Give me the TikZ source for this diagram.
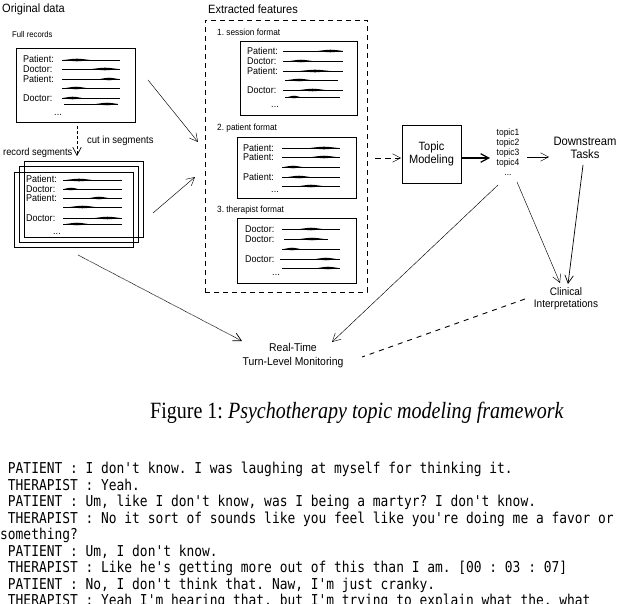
\documentclass[tikz,border=0pt]{standalone}
\usepackage{fontspec}
\setmainfont[FakeStretch=0.92]{Liberation Sans}
\newfontfamily\capfont[FakeStretch=0.86]{Liberation Serif}
\newfontfamily\mono[FakeStretch=0.86,Ligatures=TeXOff]{DejaVu Sans Mono}
\usetikzlibrary{arrows.meta}
\newcommand\fs[1]{\fontsize{#1}{#1}\selectfont}
% scribbled text line: x1, x2, y, thick-from, thick-to
\newcommand\scrib[5]{%
  \draw[line width=0.55pt] (#1,#3) -- (#2,#3);
  \fill ({#4},{#3}) .. controls ({(#4+#5)/2},{#3-1.7}) .. ({#5},{#3})
        .. controls ({(#4+#5)/2},{#3+1.7}) .. ({#4},{#3}) -- cycle;}
\frenchspacing
\begin{document}
\begin{tikzpicture}[x=1pt,y=-1pt,
  every node/.style={inner sep=0pt},
  rec/.style={draw, line width=0.65pt},
  tx/.style={anchor=west, font=\fs{9.8}},
  dots/.style={font=\fs{9.8}},
  head/.style={anchor=west, font=\fs{12}},
  sub/.style={anchor=west, font=\fs{9}},
  lbl/.style={align=center},
  arr/.style={-{Straight Barb[length=8pt,width=8.5pt]}, line width=0.45pt},
  monol/.style={anchor=base west, font=\mono\fs{15}}]
\clip (0,0) rectangle (618,604);
\fill[white] (0,0) rectangle (618,604);

% ---------------- Original data ----------------
\node[head] (orig) at (2,9) {Original data};
\node[anchor=west, font=\fs{8.4}] (fullrec) at (12,34) {Full records};
\node[rec, minimum width=119pt, minimum height=74pt] (frbox) at (75.5,85) {};
\node[tx] (fr1) at (23,59) {Patient:}; \scrib{62}{120}{60}{64}{90}
\node[tx] (fr2) at (23,69) {Doctor:};  \scrib{62}{120}{69}{92}{118}
\node[tx] (fr3) at (23,79) {Patient:}; \scrib{62}{120}{79}{100}{118}
\scrib{62}{120}{88}{66}{86}
\node[tx] (fr4) at (23,98) {Doctor:};  \scrib{62}{120}{98}{63}{82}
\scrib{64}{118}{104}{96}{118}
\node[dots] (fr5) at (58,115) {...};

\node[anchor=west, font=\fs{10.3}] (cutlab) at (87,141) {cut in segments};
\node[anchor=west, font=\fs{10.1}] (recseg) at (3,153) {record segments};

\node[rec, minimum width=119pt, minimum height=76pt] (sgback) at (83.5,199) {};
\node[rec, minimum width=119pt, minimum height=76pt] (sgmid) at (78.5,204) {};
\node[rec, minimum width=119pt, minimum height=75pt] (sgfront) at (73.5,209.5) {};
\node[tx] (sg1) at (26,179) {Patient:}; \scrib{63}{122}{180}{66}{92}
\node[tx] (sg2) at (26,189) {Doctor:};  \scrib{63}{122}{189}{64}{78}
\node[tx] (sg3) at (26,198) {Patient:}; \scrib{63}{122}{198}{90}{108}
\scrib{63}{122}{207}{70}{95}
\node[tx] (sg4) at (26,218) {Doctor:};  \scrib{63}{122}{218}{95}{120}
\scrib{63}{122}{224}{66}{88}
\node[dots] (sg5) at (57,234) {...};

% ---------------- Extracted features ----------------
\node[head] (extr) at (208,9) {Extracted features};
\node[draw, line width=0.8pt, dash pattern=on 5pt off 4pt,
      minimum width=162pt, minimum height=272pt] (feat) at (286,156) {};

\node[sub] (sess) at (217,32) {1. session format};
\node[rec, minimum width=117pt, minimum height=74pt] (sbox) at (298.5,78) {};
\node[tx] (s1) at (247,51) {Patient:}; \scrib{283}{343}{51}{318}{343}
\node[tx] (s2) at (247,61) {Doctor:};  \scrib{283}{343}{61}{290}{312}
\node[tx] (s3) at (247,71) {Patient:}; \scrib{283}{343}{71}{300}{330}
\scrib{285}{338}{80}{288}{310}
\node[tx] (s4) at (247,90) {Doctor:};  \scrib{283}{343}{90}{300}{325}
\scrib{285}{340}{97}{288}{300}
\node[dots] (s5) at (275,107) {...};

\node[sub] (patf) at (217,128) {2. patient format};
\node[rec, minimum width=119pt, minimum height=61pt] (pbox) at (296.5,167.5) {};
\node[tx] (p1) at (243,148) {Patient:}; \scrib{282}{340}{148}{310}{338}
\node[tx] (p2) at (243,157) {Patient:}; \scrib{282}{340}{157}{312}{336}
\scrib{282}{340}{167}{284}{302}
\node[tx] (p3) at (243,177) {Patient:}; \scrib{282}{340}{177}{288}{310}
\scrib{282}{340}{186}{300}{322}
\node[dots] (p5) at (275,192) {...};

\node[sub] (therf) at (217,210) {3. therapist format};
\node[rec, minimum width=119pt, minimum height=65pt] (tbox) at (296.5,250.5) {};
\node[tx] (t1) at (245,229) {Doctor:}; \scrib{282}{340}{229}{300}{322}
\node[tx] (t2) at (245,239) {Doctor:}; \scrib{284}{328}{239}{300}{324}
\scrib{282}{340}{249}{284}{300}
\node[tx] (t3) at (245,259) {Doctor:}; \scrib{280}{340}{259}{316}{336}
\scrib{282}{340}{268}{318}{338}
\node[dots] (t5) at (276,275) {...};

% ---------------- right part ----------------
\node[rec, minimum width=59pt, minimum height=58pt, lbl, font=\fontsize{12}{13}\selectfont] (tm) at (431.5,154) {Topic\\Modeling};
\node[lbl, font=\fontsize{9.2}{10}\selectfont] (tp) at (508,152.5) {topic1\\topic2\\topic3\\topic4\\...};
\node[lbl, font=\fontsize{12.2}{12.5}\selectfont] (ds) at (585,148) {Downstream\\Tasks};
\node[lbl, font=\fontsize{10.9}{12}\selectfont] (cl) at (566,299) {Clinical\\Interpretations};
\node[lbl, font=\fontsize{11.3}{14.5}\selectfont] (rt) at (293,355.5) {Real-Time\\Turn-Level Monitoring};

% ---------------- connector end points ----------------
\coordinate (a1s) at (148,80);  \coordinate (a1e) at (198,142);
\coordinate (a2s) at (153,213); \coordinate (a2e) at (195,177);
\coordinate (cs) at (77,126);   \coordinate (ce) at (77,156);
\coordinate (fe) at (375,158);  \coordinate (tmin) at (401,158);
\coordinate (tmout) at (462,158); \coordinate (tpin) at (490,158);
\coordinate (tpout) at (527,157); \coordinate (dsin) at (549,157);
\coordinate (dsout) at (583,165); \coordinate (clin1) at (568,284);
\coordinate (tpb1) at (517,182); \coordinate (clin2) at (560,283);
\coordinate (tpb2) at (498,185); \coordinate (rtin1) at (332,342);
\coordinate (sgout) at (78,255); \coordinate (rtin2) at (242,341);
\coordinate (clout) at (525,299); \coordinate (rtout) at (362,357);

% ---------------- connectors ----------------
\draw[arr] (a1s) -- (a1e);
\draw[arr] (a2s) -- (a2e);
\draw[arr, line width=0.7pt, dash pattern=on 3pt off 2pt] (cs) -- (ce);
\draw[arr, dash pattern=on 6pt off 4pt] (fe) -- (tmin);
\draw[arr, line width=1.2pt] (tmout) -- (tpin);
\draw[arr] (tpout) -- (dsin);
\draw[arr, line width=0.7pt] (dsout) -- (clin1);
\draw[arr] (tpb1) -- (clin2);
\draw[arr] (tpb2) -- (rtin1);
\draw[arr, line width=0.7pt, dash pattern=on 0.6pt off 0.6pt] (sgout) -- (rtin2);
\draw[line width=0.9pt, dash pattern=on 5pt off 5pt] (clout) -- (rtout);

% ---------------- caption ----------------
\node[font=\capfont\fs{23.3}] (cap) at (357,413) {Figure 1: \textit{Psychotherapy topic modeling framework}};

% ---------------- transcript ----------------
\node[monol] (m1) at (0,473.5) {\ PATIENT : I don't know. I was laughing at myself for thinking it.};
\node[monol] (m2) at (0,490) {\ THERAPIST : Yeah.};
\node[monol] (m3) at (0,506.5) {\ PATIENT : Um, like I don't know, was I being a martyr? I don't know.};
\node[monol] (m4) at (0,523) {\ THERAPIST : No it sort of sounds like you feel like you're doing me a favor or};
\node[monol] (m5) at (0,539.5) {something?};
\node[monol] (m6) at (0,556) {\ PATIENT : Um, I don't know.};
\node[monol] (m7) at (0,572.5) {\ THERAPIST : Like he's getting more out of this than I am. [00 : 03 : 07]};
\node[monol] (m8) at (0,589) {\ PATIENT : No, I don't think that. Naw, I'm just cranky.};
\node[monol] (m9) at (0,605.5) {\ THERAPIST : Yeah I'm hearing that, but I'm trying to explain what the, what};
\end{tikzpicture}
\end{document}
